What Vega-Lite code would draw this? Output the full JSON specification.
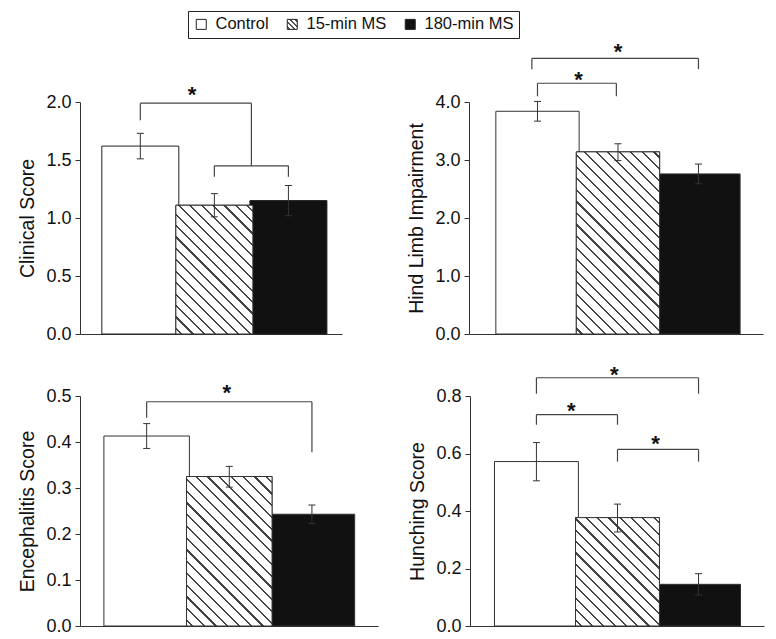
{
  "$schema": "https://vega.github.io/schema/vega-lite/v6.json",
  "background": "white",
  "padding": {"left": 17, "top": 10, "right": 5, "bottom": 0},
  "config": {
    "font": "Liberation Sans",
    "view": {"stroke": null},
    "axis": {"grid": false, "domainColor": "#333", "tickColor": "#333", "tickSize": 5, "labelFont": "Liberation Sans", "labelFontSize": 18, "labelColor": "#111", "labelPadding": 4, "titleFont": "Liberation Sans", "titleFontSize": 19.5, "titleFontWeight": "normal", "titleColor": "#111", "titlePadding": 8}
  },
  "datasets": {
    "bars": [
      {"panel": "A", "group": "Control", "pos": 1, "mean": 1.62, "lo": 1.51, "hi": 1.73},
      {"panel": "A", "group": "15-min MS", "pos": 2, "mean": 1.11, "lo": 1.01, "hi": 1.21},
      {"panel": "A", "group": "180-min MS", "pos": 3, "mean": 1.15, "lo": 1.02, "hi": 1.28},
      {"panel": "B", "group": "Control", "pos": 1, "mean": 3.84, "lo": 3.67, "hi": 4.01},
      {"panel": "B", "group": "15-min MS", "pos": 2, "mean": 3.14, "lo": 2.99, "hi": 3.28},
      {"panel": "B", "group": "180-min MS", "pos": 3, "mean": 2.76, "lo": 2.59, "hi": 2.93},
      {"panel": "C", "group": "Control", "pos": 1, "mean": 0.413, "lo": 0.386, "hi": 0.44},
      {"panel": "C", "group": "15-min MS", "pos": 2, "mean": 0.325, "lo": 0.302, "hi": 0.347},
      {"panel": "C", "group": "180-min MS", "pos": 3, "mean": 0.243, "lo": 0.223, "hi": 0.263},
      {"panel": "D", "group": "Control", "pos": 1, "mean": 0.572, "lo": 0.505, "hi": 0.638},
      {"panel": "D", "group": "15-min MS", "pos": 2, "mean": 0.377, "lo": 0.327, "hi": 0.424},
      {"panel": "D", "group": "180-min MS", "pos": 3, "mean": 0.145, "lo": 0.108, "hi": 0.182}
    ],
    "brackets": [
      {"panel": "A", "x1": 1, "x2": 2.5, "top": 1.99, "l": 1.843, "r": 1.45},
      {"panel": "A", "x1": 2, "x2": 3, "top": 1.45, "l": 1.355, "r": 1.355},
      {"panel": "B", "x1": 1, "x2": 1.98, "top": 4.323, "l": 4.1, "r": 4.1},
      {"panel": "B", "x1": 0.93, "x2": 3, "top": 4.752, "l": 4.566, "r": 4.566},
      {"panel": "C", "x1": 1, "x2": 3, "top": 0.4875, "l": 0.4526, "r": 0.3776},
      {"panel": "D", "x1": 1, "x2": 2, "top": 0.7354, "l": 0.7, "r": 0.7},
      {"panel": "D", "x1": 2, "x2": 3, "top": 0.6143, "l": 0.5718, "r": 0.5718},
      {"panel": "D", "x1": 1, "x2": 3, "top": 0.8634, "l": 0.808, "r": 0.808}
    ],
    "stars": [
      {"panel": "A", "x": 1.7, "y": 2.09},
      {"panel": "B", "x": 1.51, "y": 4.434},
      {"panel": "B", "x": 2.0, "y": 4.915},
      {"panel": "C", "x": 1.97, "y": 0.5123},
      {"panel": "D", "x": 1.43, "y": 0.7596},
      {"panel": "D", "x": 2.47, "y": 0.642},
      {"panel": "D", "x": 1.96, "y": 0.8841}
    ]
  },
  "spacing": 20,
  "vconcat": [
    {
      "spacing": 64,
      "hconcat": [
        {
          "width": 262, "height": 232,
          "layer": [
            {"data": {"name": "bars"}, "transform": [{"filter": "datum.panel === 'A'"}],
             "mark": {"type": "bar", "orient": "vertical", "size": 77, "strokeWidth": 1},
             "encoding": {
               "x": {"field": "pos", "type": "quantitative", "scale": {"domain": [0.253, 3.656], "nice": false, "zero": false}, "axis": {"title": null, "labels": false, "ticks": false, "grid": false}},
               "y": {"field": "mean", "type": "quantitative", "stack": null, "scale": {"domain": [0, 2], "nice": false}, "axis": {"title": "Clinical Score", "values": [0, 0.5, 1, 1.5, 2], "format": ".1f"}},
               "stroke": {"field": "group", "type": "nominal",
                 "scale": {"domain": ["Control", "15-min MS", "180-min MS"], "range": ["#222222", "#222222", "#222222"]},
                 "legend": {"orient": "none", "legendX": 108, "legendY": -91, "direction": "horizontal", "title": null, "symbolType": "square", "symbolSize": 100, "symbolStrokeWidth": 1, "labelFont": "Liberation Sans", "labelFontSize": 16.5, "labelColor": "#111", "labelOffset": 6, "columnPadding": 15, "strokeColor": "#222", "fillColor": "white", "padding": 5}},
               "fill": {"field": "group", "type": "nominal",
                 "scale": {"domain": ["Control", "15-min MS", "180-min MS"], "range": ["white",
                   {"expr": "{gradient: 'linear', x1: 0, y1: 1, x2: 1, y2: 0, stops: [{offset: 0.093, color: 'white'}, {offset: 0.093, color: '#555'}, {offset: 0.157, color: '#555'}, {offset: 0.157, color: 'white'}, {offset: 0.343, color: 'white'}, {offset: 0.343, color: '#555'}, {offset: 0.407, color: '#555'}, {offset: 0.407, color: 'white'}, {offset: 0.593, color: 'white'}, {offset: 0.593, color: '#555'}, {offset: 0.657, color: '#555'}, {offset: 0.657, color: 'white'}, {offset: 0.843, color: 'white'}, {offset: 0.843, color: '#555'}, {offset: 0.907, color: '#555'}, {offset: 0.907, color: 'white'}]}"},
                   "#111111"]},
                 "legend": {"orient": "none", "legendX": 108, "legendY": -91, "direction": "horizontal", "title": null, "symbolType": "square", "symbolSize": 100, "symbolStrokeColor": "#222", "symbolStrokeWidth": 1, "labelFont": "Liberation Sans", "labelFontSize": 16.5, "labelColor": "#111", "labelOffset": 6, "columnPadding": 15, "strokeColor": "#222", "fillColor": "white", "padding": 5}}
             }},
            {"data": {"name": "bars"}, "transform": [{"filter": "datum.panel === 'A' && datum.group === '15-min MS'"}],
             "mark": {"type": "bar", "orient": "vertical", "size": 77, "stroke": "#333", "strokeWidth": 1,
               "fill": {"gradient": "linear", "x1": 0, "y1": 1, "x2": 0.7037, "y2": -0.1771, "stops": [
                 {"offset": 0.0225, "color": "white"}, {"offset": 0.0225, "color": "#444"}, {"offset": 0.0331, "color": "#444"}, {"offset": 0.0331, "color": "white"},
                 {"offset": 0.0780, "color": "white"}, {"offset": 0.0780, "color": "#444"}, {"offset": 0.0886, "color": "#444"}, {"offset": 0.0886, "color": "white"},
                 {"offset": 0.1336, "color": "white"}, {"offset": 0.1336, "color": "#444"}, {"offset": 0.1442, "color": "#444"}, {"offset": 0.1442, "color": "white"},
                 {"offset": 0.1891, "color": "white"}, {"offset": 0.1891, "color": "#444"}, {"offset": 0.1997, "color": "#444"}, {"offset": 0.1997, "color": "white"},
                 {"offset": 0.2447, "color": "white"}, {"offset": 0.2447, "color": "#444"}, {"offset": 0.2553, "color": "#444"}, {"offset": 0.2553, "color": "white"},
                 {"offset": 0.3003, "color": "white"}, {"offset": 0.3003, "color": "#444"}, {"offset": 0.3109, "color": "#444"}, {"offset": 0.3109, "color": "white"},
                 {"offset": 0.3558, "color": "white"}, {"offset": 0.3558, "color": "#444"}, {"offset": 0.3664, "color": "#444"}, {"offset": 0.3664, "color": "white"},
                 {"offset": 0.4114, "color": "white"}, {"offset": 0.4114, "color": "#444"}, {"offset": 0.4220, "color": "#444"}, {"offset": 0.4220, "color": "white"},
                 {"offset": 0.4669, "color": "white"}, {"offset": 0.4669, "color": "#444"}, {"offset": 0.4775, "color": "#444"}, {"offset": 0.4775, "color": "white"},
                 {"offset": 0.5225, "color": "white"}, {"offset": 0.5225, "color": "#444"}, {"offset": 0.5331, "color": "#444"}, {"offset": 0.5331, "color": "white"},
                 {"offset": 0.5780, "color": "white"}, {"offset": 0.5780, "color": "#444"}, {"offset": 0.5886, "color": "#444"}, {"offset": 0.5886, "color": "white"},
                 {"offset": 0.6336, "color": "white"}, {"offset": 0.6336, "color": "#444"}, {"offset": 0.6442, "color": "#444"}, {"offset": 0.6442, "color": "white"},
                 {"offset": 0.6891, "color": "white"}, {"offset": 0.6891, "color": "#444"}, {"offset": 0.6997, "color": "#444"}, {"offset": 0.6997, "color": "white"},
                 {"offset": 0.7447, "color": "white"}, {"offset": 0.7447, "color": "#444"}, {"offset": 0.7553, "color": "#444"}, {"offset": 0.7553, "color": "white"},
                 {"offset": 0.8003, "color": "white"}, {"offset": 0.8003, "color": "#444"}, {"offset": 0.8109, "color": "#444"}, {"offset": 0.8109, "color": "white"},
                 {"offset": 0.8558, "color": "white"}, {"offset": 0.8558, "color": "#444"}, {"offset": 0.8664, "color": "#444"}, {"offset": 0.8664, "color": "white"},
                 {"offset": 0.9114, "color": "white"}, {"offset": 0.9114, "color": "#444"}, {"offset": 0.9220, "color": "#444"}, {"offset": 0.9220, "color": "white"},
                 {"offset": 0.9669, "color": "white"}, {"offset": 0.9669, "color": "#444"}, {"offset": 0.9775, "color": "#444"}, {"offset": 0.9775, "color": "white"}]}},
             "encoding": {"x": {"field": "pos", "type": "quantitative"}, "y": {"field": "mean", "type": "quantitative", "stack": null}}},
            {"data": {"name": "bars"}, "transform": [{"filter": "datum.panel === 'A'"}],
             "mark": {"type": "rule", "color": "#333", "strokeWidth": 1},
             "encoding": {"x": {"field": "pos", "type": "quantitative"}, "y": {"field": "lo", "type": "quantitative"}, "y2": {"field": "hi"}}},
            {"data": {"name": "bars"}, "transform": [{"filter": "datum.panel === 'A'"}],
             "mark": {"type": "tick", "orient": "horizontal", "size": 7, "thickness": 1, "color": "#333", "opacity": 1},
             "encoding": {"x": {"field": "pos", "type": "quantitative"}, "y": {"field": "hi", "type": "quantitative"}}},
            {"data": {"name": "bars"}, "transform": [{"filter": "datum.panel === 'A'"}],
             "mark": {"type": "tick", "orient": "horizontal", "size": 7, "thickness": 1, "color": "#333", "opacity": 1},
             "encoding": {"x": {"field": "pos", "type": "quantitative"}, "y": {"field": "lo", "type": "quantitative"}}},
            {"data": {"name": "brackets"}, "transform": [{"filter": "datum.panel === 'A'"}],
             "mark": {"type": "rule", "color": "#444", "strokeWidth": 1.2},
             "encoding": {"x": {"field": "x1", "type": "quantitative"}, "x2": {"field": "x2"}, "y": {"field": "top", "type": "quantitative"}}},
            {"data": {"name": "brackets"}, "transform": [{"filter": "datum.panel === 'A'"}],
             "mark": {"type": "rule", "color": "#444", "strokeWidth": 1.2},
             "encoding": {"x": {"field": "x1", "type": "quantitative"}, "y": {"field": "top", "type": "quantitative"}, "y2": {"field": "l"}}},
            {"data": {"name": "brackets"}, "transform": [{"filter": "datum.panel === 'A'"}],
             "mark": {"type": "rule", "color": "#444", "strokeWidth": 1.2},
             "encoding": {"x": {"field": "x2", "type": "quantitative"}, "y": {"field": "top", "type": "quantitative"}, "y2": {"field": "r"}}},
            {"data": {"name": "stars"}, "transform": [{"filter": "datum.panel === 'A'"}],
             "mark": {"type": "text", "text": "*", "fontSize": 22, "fontWeight": "bold", "baseline": "alphabetic", "align": "center", "dy": 10, "color": "#111"},
             "encoding": {"x": {"field": "x", "type": "quantitative"}, "y": {"field": "y", "type": "quantitative"}}}
          ]
        },
        {
          "width": 294, "height": 232,
          "layer": [
            {"data": {"name": "bars"}, "transform": [{"filter": "datum.panel === 'B'"}],
             "mark": {"type": "bar", "orient": "vertical", "size": 83.3, "stroke": "#333", "strokeWidth": 1},
             "encoding": {
               "x": {"field": "pos", "type": "quantitative", "scale": {"domain": [0.211, 3.74], "nice": false, "zero": false}, "axis": {"title": null, "labels": false, "ticks": false, "grid": false}},
               "y": {"field": "mean", "type": "quantitative", "stack": null, "scale": {"domain": [0, 4], "nice": false}, "axis": {"title": "Hind Limb Impairment", "values": [0, 1, 2, 3, 4], "format": ".1f"}},
               "fill": {"field": "group", "type": "nominal"}
             }},
            {"data": {"name": "bars"}, "transform": [{"filter": "datum.panel === 'B' && datum.group === '15-min MS'"}],
             "mark": {"type": "bar", "orient": "vertical", "size": 83.3, "stroke": "#333", "strokeWidth": 1,
               "fill": {"gradient": "linear", "x1": 0, "y1": 1, "x2": 0.5513, "y2": -0.2053, "stops": [
                 {"offset": 0.0176, "color": "white"}, {"offset": 0.0176, "color": "#444"}, {"offset": 0.0258, "color": "#444"}, {"offset": 0.0258, "color": "white"},
                 {"offset": 0.0611, "color": "white"}, {"offset": 0.0611, "color": "#444"}, {"offset": 0.0693, "color": "#444"}, {"offset": 0.0693, "color": "white"},
                 {"offset": 0.1046, "color": "white"}, {"offset": 0.1046, "color": "#444"}, {"offset": 0.1128, "color": "#444"}, {"offset": 0.1128, "color": "white"},
                 {"offset": 0.1481, "color": "white"}, {"offset": 0.1481, "color": "#444"}, {"offset": 0.1563, "color": "#444"}, {"offset": 0.1563, "color": "white"},
                 {"offset": 0.1915, "color": "white"}, {"offset": 0.1915, "color": "#444"}, {"offset": 0.1997, "color": "#444"}, {"offset": 0.1997, "color": "white"},
                 {"offset": 0.2350, "color": "white"}, {"offset": 0.2350, "color": "#444"}, {"offset": 0.2432, "color": "#444"}, {"offset": 0.2432, "color": "white"},
                 {"offset": 0.2785, "color": "white"}, {"offset": 0.2785, "color": "#444"}, {"offset": 0.2867, "color": "#444"}, {"offset": 0.2867, "color": "white"},
                 {"offset": 0.3220, "color": "white"}, {"offset": 0.3220, "color": "#444"}, {"offset": 0.3302, "color": "#444"}, {"offset": 0.3302, "color": "white"},
                 {"offset": 0.3655, "color": "white"}, {"offset": 0.3655, "color": "#444"}, {"offset": 0.3737, "color": "#444"}, {"offset": 0.3737, "color": "white"},
                 {"offset": 0.4089, "color": "white"}, {"offset": 0.4089, "color": "#444"}, {"offset": 0.4171, "color": "#444"}, {"offset": 0.4171, "color": "white"},
                 {"offset": 0.4524, "color": "white"}, {"offset": 0.4524, "color": "#444"}, {"offset": 0.4606, "color": "#444"}, {"offset": 0.4606, "color": "white"},
                 {"offset": 0.4959, "color": "white"}, {"offset": 0.4959, "color": "#444"}, {"offset": 0.5041, "color": "#444"}, {"offset": 0.5041, "color": "white"},
                 {"offset": 0.5394, "color": "white"}, {"offset": 0.5394, "color": "#444"}, {"offset": 0.5476, "color": "#444"}, {"offset": 0.5476, "color": "white"},
                 {"offset": 0.5829, "color": "white"}, {"offset": 0.5829, "color": "#444"}, {"offset": 0.5911, "color": "#444"}, {"offset": 0.5911, "color": "white"},
                 {"offset": 0.6263, "color": "white"}, {"offset": 0.6263, "color": "#444"}, {"offset": 0.6345, "color": "#444"}, {"offset": 0.6345, "color": "white"},
                 {"offset": 0.6698, "color": "white"}, {"offset": 0.6698, "color": "#444"}, {"offset": 0.6780, "color": "#444"}, {"offset": 0.6780, "color": "white"},
                 {"offset": 0.7133, "color": "white"}, {"offset": 0.7133, "color": "#444"}, {"offset": 0.7215, "color": "#444"}, {"offset": 0.7215, "color": "white"},
                 {"offset": 0.7568, "color": "white"}, {"offset": 0.7568, "color": "#444"}, {"offset": 0.7650, "color": "#444"}, {"offset": 0.7650, "color": "white"},
                 {"offset": 0.8003, "color": "white"}, {"offset": 0.8003, "color": "#444"}, {"offset": 0.8085, "color": "#444"}, {"offset": 0.8085, "color": "white"},
                 {"offset": 0.8437, "color": "white"}, {"offset": 0.8437, "color": "#444"}, {"offset": 0.8519, "color": "#444"}, {"offset": 0.8519, "color": "white"},
                 {"offset": 0.8872, "color": "white"}, {"offset": 0.8872, "color": "#444"}, {"offset": 0.8954, "color": "#444"}, {"offset": 0.8954, "color": "white"},
                 {"offset": 0.9307, "color": "white"}, {"offset": 0.9307, "color": "#444"}, {"offset": 0.9389, "color": "#444"}, {"offset": 0.9389, "color": "white"},
                 {"offset": 0.9742, "color": "white"}, {"offset": 0.9742, "color": "#444"}, {"offset": 0.9824, "color": "#444"}, {"offset": 0.9824, "color": "white"}]}},
             "encoding": {"x": {"field": "pos", "type": "quantitative"}, "y": {"field": "mean", "type": "quantitative", "stack": null}}},
            {"data": {"name": "bars"}, "transform": [{"filter": "datum.panel === 'B'"}],
             "mark": {"type": "rule", "color": "#333", "strokeWidth": 1},
             "encoding": {"x": {"field": "pos", "type": "quantitative"}, "y": {"field": "lo", "type": "quantitative"}, "y2": {"field": "hi"}}},
            {"data": {"name": "bars"}, "transform": [{"filter": "datum.panel === 'B'"}],
             "mark": {"type": "tick", "orient": "horizontal", "size": 7, "thickness": 1, "color": "#333", "opacity": 1},
             "encoding": {"x": {"field": "pos", "type": "quantitative"}, "y": {"field": "hi", "type": "quantitative"}}},
            {"data": {"name": "bars"}, "transform": [{"filter": "datum.panel === 'B'"}],
             "mark": {"type": "tick", "orient": "horizontal", "size": 7, "thickness": 1, "color": "#333", "opacity": 1},
             "encoding": {"x": {"field": "pos", "type": "quantitative"}, "y": {"field": "lo", "type": "quantitative"}}},
            {"data": {"name": "brackets"}, "transform": [{"filter": "datum.panel === 'B'"}],
             "mark": {"type": "rule", "color": "#444", "strokeWidth": 1.2},
             "encoding": {"x": {"field": "x1", "type": "quantitative"}, "x2": {"field": "x2"}, "y": {"field": "top", "type": "quantitative"}}},
            {"data": {"name": "brackets"}, "transform": [{"filter": "datum.panel === 'B'"}],
             "mark": {"type": "rule", "color": "#444", "strokeWidth": 1.2},
             "encoding": {"x": {"field": "x1", "type": "quantitative"}, "y": {"field": "top", "type": "quantitative"}, "y2": {"field": "l"}}},
            {"data": {"name": "brackets"}, "transform": [{"filter": "datum.panel === 'B'"}],
             "mark": {"type": "rule", "color": "#444", "strokeWidth": 1.2},
             "encoding": {"x": {"field": "x2", "type": "quantitative"}, "y": {"field": "top", "type": "quantitative"}, "y2": {"field": "r"}}},
            {"data": {"name": "stars"}, "transform": [{"filter": "datum.panel === 'B'"}],
             "mark": {"type": "text", "text": "*", "fontSize": 22, "fontWeight": "bold", "baseline": "alphabetic", "align": "center", "dy": 10, "color": "#111"},
             "encoding": {"x": {"field": "x", "type": "quantitative"}, "y": {"field": "y", "type": "quantitative"}}}
          ]
        }
      ]
    },
    {
      "spacing": 29,
      "hconcat": [
        {
          "width": 298, "height": 230,
          "layer": [
            {"data": {"name": "bars"}, "transform": [{"filter": "datum.panel === 'C'"}],
             "mark": {"type": "bar", "orient": "vertical", "size": 85.5, "stroke": "#333", "strokeWidth": 1},
             "encoding": {
               "x": {"field": "pos", "type": "quantitative", "scale": {"domain": [0.254, 3.739], "nice": false, "zero": false}, "axis": {"title": null, "labels": false, "ticks": false, "grid": false}},
               "y": {"field": "mean", "type": "quantitative", "stack": null, "scale": {"domain": [0, 0.5], "nice": false}, "axis": {"title": "Encephalitis Score", "values": [0, 0.1, 0.2, 0.3, 0.4, 0.5], "format": ".1f"}},
               "fill": {"field": "group", "type": "nominal"}
             }},
            {"data": {"name": "bars"}, "transform": [{"filter": "datum.panel === 'C' && datum.group === '15-min MS'"}],
             "mark": {"type": "bar", "orient": "vertical", "size": 85.5, "stroke": "#333", "strokeWidth": 1,
               "fill": {"gradient": "linear", "x1": 0, "y1": 1, "x2": 0.6774, "y2": -0.1845, "stops": [
                 {"offset": 0.0203, "color": "white"}, {"offset": 0.0203, "color": "#444"}, {"offset": 0.0297, "color": "#444"}, {"offset": 0.0297, "color": "white"},
                 {"offset": 0.0703, "color": "white"}, {"offset": 0.0703, "color": "#444"}, {"offset": 0.0797, "color": "#444"}, {"offset": 0.0797, "color": "white"},
                 {"offset": 0.1203, "color": "white"}, {"offset": 0.1203, "color": "#444"}, {"offset": 0.1297, "color": "#444"}, {"offset": 0.1297, "color": "white"},
                 {"offset": 0.1703, "color": "white"}, {"offset": 0.1703, "color": "#444"}, {"offset": 0.1797, "color": "#444"}, {"offset": 0.1797, "color": "white"},
                 {"offset": 0.2203, "color": "white"}, {"offset": 0.2203, "color": "#444"}, {"offset": 0.2297, "color": "#444"}, {"offset": 0.2297, "color": "white"},
                 {"offset": 0.2703, "color": "white"}, {"offset": 0.2703, "color": "#444"}, {"offset": 0.2797, "color": "#444"}, {"offset": 0.2797, "color": "white"},
                 {"offset": 0.3203, "color": "white"}, {"offset": 0.3203, "color": "#444"}, {"offset": 0.3297, "color": "#444"}, {"offset": 0.3297, "color": "white"},
                 {"offset": 0.3703, "color": "white"}, {"offset": 0.3703, "color": "#444"}, {"offset": 0.3797, "color": "#444"}, {"offset": 0.3797, "color": "white"},
                 {"offset": 0.4203, "color": "white"}, {"offset": 0.4203, "color": "#444"}, {"offset": 0.4297, "color": "#444"}, {"offset": 0.4297, "color": "white"},
                 {"offset": 0.4703, "color": "white"}, {"offset": 0.4703, "color": "#444"}, {"offset": 0.4797, "color": "#444"}, {"offset": 0.4797, "color": "white"},
                 {"offset": 0.5203, "color": "white"}, {"offset": 0.5203, "color": "#444"}, {"offset": 0.5297, "color": "#444"}, {"offset": 0.5297, "color": "white"},
                 {"offset": 0.5703, "color": "white"}, {"offset": 0.5703, "color": "#444"}, {"offset": 0.5797, "color": "#444"}, {"offset": 0.5797, "color": "white"},
                 {"offset": 0.6203, "color": "white"}, {"offset": 0.6203, "color": "#444"}, {"offset": 0.6297, "color": "#444"}, {"offset": 0.6297, "color": "white"},
                 {"offset": 0.6703, "color": "white"}, {"offset": 0.6703, "color": "#444"}, {"offset": 0.6797, "color": "#444"}, {"offset": 0.6797, "color": "white"},
                 {"offset": 0.7203, "color": "white"}, {"offset": 0.7203, "color": "#444"}, {"offset": 0.7297, "color": "#444"}, {"offset": 0.7297, "color": "white"},
                 {"offset": 0.7703, "color": "white"}, {"offset": 0.7703, "color": "#444"}, {"offset": 0.7797, "color": "#444"}, {"offset": 0.7797, "color": "white"},
                 {"offset": 0.8203, "color": "white"}, {"offset": 0.8203, "color": "#444"}, {"offset": 0.8297, "color": "#444"}, {"offset": 0.8297, "color": "white"},
                 {"offset": 0.8703, "color": "white"}, {"offset": 0.8703, "color": "#444"}, {"offset": 0.8797, "color": "#444"}, {"offset": 0.8797, "color": "white"},
                 {"offset": 0.9203, "color": "white"}, {"offset": 0.9203, "color": "#444"}, {"offset": 0.9297, "color": "#444"}, {"offset": 0.9297, "color": "white"},
                 {"offset": 0.9703, "color": "white"}, {"offset": 0.9703, "color": "#444"}, {"offset": 0.9797, "color": "#444"}, {"offset": 0.9797, "color": "white"}]}},
             "encoding": {"x": {"field": "pos", "type": "quantitative"}, "y": {"field": "mean", "type": "quantitative", "stack": null}}},
            {"data": {"name": "bars"}, "transform": [{"filter": "datum.panel === 'C'"}],
             "mark": {"type": "rule", "color": "#333", "strokeWidth": 1},
             "encoding": {"x": {"field": "pos", "type": "quantitative"}, "y": {"field": "lo", "type": "quantitative"}, "y2": {"field": "hi"}}},
            {"data": {"name": "bars"}, "transform": [{"filter": "datum.panel === 'C'"}],
             "mark": {"type": "tick", "orient": "horizontal", "size": 7, "thickness": 1, "color": "#333", "opacity": 1},
             "encoding": {"x": {"field": "pos", "type": "quantitative"}, "y": {"field": "hi", "type": "quantitative"}}},
            {"data": {"name": "bars"}, "transform": [{"filter": "datum.panel === 'C'"}],
             "mark": {"type": "tick", "orient": "horizontal", "size": 7, "thickness": 1, "color": "#333", "opacity": 1},
             "encoding": {"x": {"field": "pos", "type": "quantitative"}, "y": {"field": "lo", "type": "quantitative"}}},
            {"data": {"name": "brackets"}, "transform": [{"filter": "datum.panel === 'C'"}],
             "mark": {"type": "rule", "color": "#444", "strokeWidth": 1.2},
             "encoding": {"x": {"field": "x1", "type": "quantitative"}, "x2": {"field": "x2"}, "y": {"field": "top", "type": "quantitative"}}},
            {"data": {"name": "brackets"}, "transform": [{"filter": "datum.panel === 'C'"}],
             "mark": {"type": "rule", "color": "#444", "strokeWidth": 1.2},
             "encoding": {"x": {"field": "x1", "type": "quantitative"}, "y": {"field": "top", "type": "quantitative"}, "y2": {"field": "l"}}},
            {"data": {"name": "brackets"}, "transform": [{"filter": "datum.panel === 'C'"}],
             "mark": {"type": "rule", "color": "#444", "strokeWidth": 1.2},
             "encoding": {"x": {"field": "x2", "type": "quantitative"}, "y": {"field": "top", "type": "quantitative"}, "y2": {"field": "r"}}},
            {"data": {"name": "stars"}, "transform": [{"filter": "datum.panel === 'C'"}],
             "mark": {"type": "text", "text": "*", "fontSize": 22, "fontWeight": "bold", "baseline": "alphabetic", "align": "center", "dy": 10, "color": "#111"},
             "encoding": {"x": {"field": "x", "type": "quantitative"}, "y": {"field": "y", "type": "quantitative"}}}
          ]
        },
        {
          "width": 294, "height": 230,
          "layer": [
            {"data": {"name": "bars"}, "transform": [{"filter": "datum.panel === 'D'"}],
             "mark": {"type": "bar", "orient": "vertical", "size": 83.9, "stroke": "#333", "strokeWidth": 1},
             "encoding": {
               "x": {"field": "pos", "type": "quantitative", "scale": {"domain": [0.242, 3.746], "nice": false, "zero": false}, "axis": {"title": null, "labels": false, "ticks": false, "grid": false}},
               "y": {"field": "mean", "type": "quantitative", "stack": null, "scale": {"domain": [0, 0.8], "nice": false}, "axis": {"title": "Hunching Score", "values": [0, 0.2, 0.4, 0.6, 0.8], "format": ".1f"}},
               "fill": {"field": "group", "type": "nominal"}
             }},
            {"data": {"name": "bars"}, "transform": [{"filter": "datum.panel === 'D' && datum.group === '15-min MS'"}],
             "mark": {"type": "bar", "orient": "vertical", "size": 83.9, "stroke": "#333", "strokeWidth": 1,
               "fill": {"gradient": "linear", "x1": 0, "y1": 1, "x2": 0.8587, "y2": -0.1094, "stops": [
                 {"offset": 0.0237, "color": "white"}, {"offset": 0.0237, "color": "#444"}, {"offset": 0.0351, "color": "#444"}, {"offset": 0.0351, "color": "white"},
                 {"offset": 0.0825, "color": "white"}, {"offset": 0.0825, "color": "#444"}, {"offset": 0.0939, "color": "#444"}, {"offset": 0.0939, "color": "white"},
                 {"offset": 0.1414, "color": "white"}, {"offset": 0.1414, "color": "#444"}, {"offset": 0.1528, "color": "#444"}, {"offset": 0.1528, "color": "white"},
                 {"offset": 0.2002, "color": "white"}, {"offset": 0.2002, "color": "#444"}, {"offset": 0.2116, "color": "#444"}, {"offset": 0.2116, "color": "white"},
                 {"offset": 0.2590, "color": "white"}, {"offset": 0.2590, "color": "#444"}, {"offset": 0.2704, "color": "#444"}, {"offset": 0.2704, "color": "white"},
                 {"offset": 0.3178, "color": "white"}, {"offset": 0.3178, "color": "#444"}, {"offset": 0.3292, "color": "#444"}, {"offset": 0.3292, "color": "white"},
                 {"offset": 0.3767, "color": "white"}, {"offset": 0.3767, "color": "#444"}, {"offset": 0.3881, "color": "#444"}, {"offset": 0.3881, "color": "white"},
                 {"offset": 0.4355, "color": "white"}, {"offset": 0.4355, "color": "#444"}, {"offset": 0.4469, "color": "#444"}, {"offset": 0.4469, "color": "white"},
                 {"offset": 0.4943, "color": "white"}, {"offset": 0.4943, "color": "#444"}, {"offset": 0.5057, "color": "#444"}, {"offset": 0.5057, "color": "white"},
                 {"offset": 0.5531, "color": "white"}, {"offset": 0.5531, "color": "#444"}, {"offset": 0.5645, "color": "#444"}, {"offset": 0.5645, "color": "white"},
                 {"offset": 0.6120, "color": "white"}, {"offset": 0.6120, "color": "#444"}, {"offset": 0.6234, "color": "#444"}, {"offset": 0.6234, "color": "white"},
                 {"offset": 0.6708, "color": "white"}, {"offset": 0.6708, "color": "#444"}, {"offset": 0.6822, "color": "#444"}, {"offset": 0.6822, "color": "white"},
                 {"offset": 0.7296, "color": "white"}, {"offset": 0.7296, "color": "#444"}, {"offset": 0.7410, "color": "#444"}, {"offset": 0.7410, "color": "white"},
                 {"offset": 0.7884, "color": "white"}, {"offset": 0.7884, "color": "#444"}, {"offset": 0.7998, "color": "#444"}, {"offset": 0.7998, "color": "white"},
                 {"offset": 0.8473, "color": "white"}, {"offset": 0.8473, "color": "#444"}, {"offset": 0.8587, "color": "#444"}, {"offset": 0.8587, "color": "white"},
                 {"offset": 0.9061, "color": "white"}, {"offset": 0.9061, "color": "#444"}, {"offset": 0.9175, "color": "#444"}, {"offset": 0.9175, "color": "white"},
                 {"offset": 0.9649, "color": "white"}, {"offset": 0.9649, "color": "#444"}, {"offset": 0.9763, "color": "#444"}, {"offset": 0.9763, "color": "white"}]}},
             "encoding": {"x": {"field": "pos", "type": "quantitative"}, "y": {"field": "mean", "type": "quantitative", "stack": null}}},
            {"data": {"name": "bars"}, "transform": [{"filter": "datum.panel === 'D'"}],
             "mark": {"type": "rule", "color": "#333", "strokeWidth": 1},
             "encoding": {"x": {"field": "pos", "type": "quantitative"}, "y": {"field": "lo", "type": "quantitative"}, "y2": {"field": "hi"}}},
            {"data": {"name": "bars"}, "transform": [{"filter": "datum.panel === 'D'"}],
             "mark": {"type": "tick", "orient": "horizontal", "size": 7, "thickness": 1, "color": "#333", "opacity": 1},
             "encoding": {"x": {"field": "pos", "type": "quantitative"}, "y": {"field": "hi", "type": "quantitative"}}},
            {"data": {"name": "bars"}, "transform": [{"filter": "datum.panel === 'D'"}],
             "mark": {"type": "tick", "orient": "horizontal", "size": 7, "thickness": 1, "color": "#333", "opacity": 1},
             "encoding": {"x": {"field": "pos", "type": "quantitative"}, "y": {"field": "lo", "type": "quantitative"}}},
            {"data": {"name": "brackets"}, "transform": [{"filter": "datum.panel === 'D'"}],
             "mark": {"type": "rule", "color": "#444", "strokeWidth": 1.2},
             "encoding": {"x": {"field": "x1", "type": "quantitative"}, "x2": {"field": "x2"}, "y": {"field": "top", "type": "quantitative"}}},
            {"data": {"name": "brackets"}, "transform": [{"filter": "datum.panel === 'D'"}],
             "mark": {"type": "rule", "color": "#444", "strokeWidth": 1.2},
             "encoding": {"x": {"field": "x1", "type": "quantitative"}, "y": {"field": "top", "type": "quantitative"}, "y2": {"field": "l"}}},
            {"data": {"name": "brackets"}, "transform": [{"filter": "datum.panel === 'D'"}],
             "mark": {"type": "rule", "color": "#444", "strokeWidth": 1.2},
             "encoding": {"x": {"field": "x2", "type": "quantitative"}, "y": {"field": "top", "type": "quantitative"}, "y2": {"field": "r"}}},
            {"data": {"name": "stars"}, "transform": [{"filter": "datum.panel === 'D'"}],
             "mark": {"type": "text", "text": "*", "fontSize": 22, "fontWeight": "bold", "baseline": "alphabetic", "align": "center", "dy": 10, "color": "#111"},
             "encoding": {"x": {"field": "x", "type": "quantitative"}, "y": {"field": "y", "type": "quantitative"}}}
          ]
        }
      ]
    }
  ]
}
